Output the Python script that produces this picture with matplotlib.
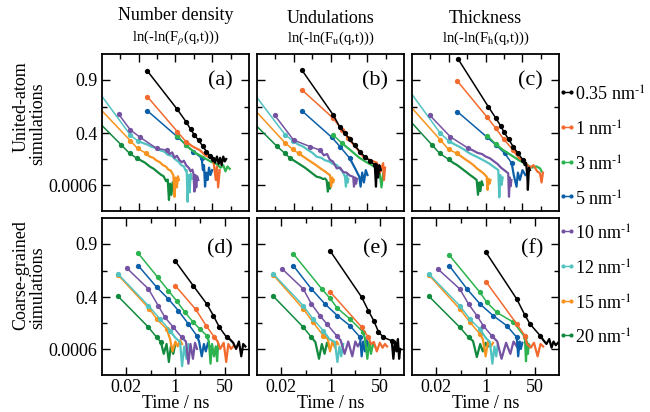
import numpy as np
import matplotlib.pyplot as plt
from matplotlib.lines import Line2D
from matplotlib.ticker import NullFormatter

plt.rcParams['font.family'] = 'Liberation Serif'
plt.rcParams['mathtext.fontset'] = 'stix'

q_labels = ['0.35', '1', '3', '5', '10', '12', '15', '20']
q_colors = ['#000000', '#f26a2e', '#2cb34f', '#0b5ea8',
            '#7553a3', '#52c3c1', '#f7931e', '#128a3e']

# y is ln(-ln F), ticks are labelled with the F value
f_ticks = [0.9, 0.4, 0.0006]
f_tick_labels = ['0.9', '0.4', '0.0006']

titles = ['Number density', 'Undulations', 'Thickness']
subtitles = ['ln(-ln(F$_{\\rho}$(q,t)))', 'ln(-ln(F$_{\\mathrm{u}}$(q,t)))',
             'ln(-ln(F$_{\\mathrm{h}}$(q,t)))']
panel_tags = ['(a)', '(b)', '(c)', '(d)', '(e)', '(f)']

# each entry: time (ns), ln(-ln F) with dots, then the noisy end (line only)
panel_a = {
    '0.35': ([0.175, 1.13, 1.95, 2.6, 3.3, 4.3, 5.5, 7.0, 8.8, 10.7],
             [-2.61, -1.06, -0.56, -0.25, -0.02, 0.2, 0.42, 0.65, 0.82, 0.95],
             [10.7, 12, 13.5, 15, 16.5, 18, 20, 22, 24],
             [0.95, 1.1, 0.85, 1.15, 0.9, 1.2, 0.85, 1.05, 0.95]),
    '1': ([0.175, 1.13, 1.95], [-1.57, -0.16, 0.25],
          [1.95, 3, 4.6, 6.5, 9.6, 11, 12.5, 13.5, 14.5, 16],
          [0.25, 0.45, 0.59, 0.8, 0.92, 1.1, 1.8, 1.26, 2.1, 1.4]),
    '3': ([1.13, 1.95], [0.0, 0.4],
          [1.95, 3.5, 6, 9, 13, 17, 20, 23, 26, 30],
          [0.4, 0.7, 0.9, 1.05, 1.15, 1.3, 1.2, 1.45, 1.25, 1.35]),
    '5': ([0.175, 1.13, 1.95, 3.06, 5.2], [-1.0, 0.05, 0.38, 0.65, 0.92],
          [5.2, 5.6, 6.0, 6.4, 6.9, 7.5, 8.2, 9, 10],
          [0.92, 1.4, 1.2, 2.07, 1.5, 1.8, 1.3, 1.6, 1.4]),
    '10': ([0.029, 0.06, 0.11, 0.31, 0.59], [-0.86, -0.23, 0.07, 0.52, 0.59],
           [0.59, 0.7, 0.82, 0.95, 1.1, 1.3, 1.5, 1.7, 2.0, 2.3, 2.6, 2.9, 3.1, 3.3, 3.5, 3.7, 3.9, 4.2],
           [0.59, 0.75, 0.68, 0.9, 0.82, 1.0, 1.08, 1.02, 1.22, 1.3, 1.45, 1.38, 1.55, 2.27, 1.6, 2.1, 1.65, 1.8]),
    '12': ([0.007, 0.06, 0.094], [-1.92, -0.02, 0.21],
           [0.094, 0.13, 0.17, 0.22, 0.29, 0.386, 0.5, 0.62, 0.8, 1.0, 1.2, 1.45, 1.7, 1.9, 2.03, 2.15, 2.3, 2.45, 2.6, 2.8],
           [0.21, 0.3, 0.36, 0.45, 0.5, 0.6, 0.65, 0.78, 0.82, 0.97, 1.05, 1.2, 1.25, 1.42, 1.4, 2.68, 1.6, 2.3, 1.55, 1.75]),
    '15': ([0.007, 0.06, 0.094, 0.16], [-1.26, 0.21, 0.52, 0.72],
           [0.16, 0.2, 0.25, 0.3, 0.38, 0.46, 0.55, 0.65, 0.75, 0.88, 0.95, 1.02, 1.1, 1.18, 1.25],
           [0.72, 0.85, 0.9, 1.0, 1.08, 1.2, 1.25, 1.38, 1.42, 1.6, 2.48, 1.7, 2.1, 1.65, 1.8]),
    '20': ([0.007, 0.034, 0.057, 0.09], [-0.65, 0.38, 0.72, 0.92],
           [0.09, 0.12, 0.15, 0.2, 0.26, 0.33, 0.4, 0.48, 0.56, 0.62, 0.67, 0.72, 0.78, 0.85],
           [0.92, 1.02, 1.1, 1.25, 1.35, 1.48, 1.58, 1.65, 1.85, 1.78, 2.61, 1.95, 2.4, 1.9]),
}

panel_b = {
    '0.35': ([0.166, 1.18, 1.8, 2.45, 3.3, 4.5, 6.2, 8.5, 11.5, 15.8],
             [-2.65, -0.83, -0.33, -0.09, 0.15, 0.4, 0.65, 0.86, 1.02, 1.19],
             [15.8, 17, 18, 19.5, 21, 23],
             [1.19, 2.07, 1.3, 1.7, 1.2, 1.4]),
    '1': ([0.166, 1.18, 1.99, 3.0], [-1.85, -0.7, -0.23, 0.11],
          [3.0, 5, 7.7, 12, 18, 22, 26.6, 28, 30],
          [0.11, 0.5, 0.86, 1.0, 1.1, 1.5, 1.12, 1.8, 1.3]),
    '3': ([1.18, 1.99], [-0.02, 0.3],
          [1.99, 3.5, 6, 10, 15, 21, 24, 27],
          [0.3, 0.6, 0.9, 1.1, 1.25, 1.39, 2.1, 1.5]),
    '5': ([0.166, 1.07, 1.8, 3.3], [-1.0, 0.07, 0.45, 0.92],
          [3.3, 4.5, 6.0, 6.5, 7.2, 8, 9, 10],
          [0.92, 1.3, 1.67, 2.07, 1.5, 1.9, 1.4, 1.6]),
    '10': ([0.03, 0.098, 0.28, 0.52], [-0.83, 0.18, 0.45, 0.59],
           [0.52, 0.65, 0.8, 0.95, 1.15, 1.46, 1.8, 2.2, 2.7, 3.3, 4.1, 4.3, 4.6, 4.9, 5.2],
           [0.59, 0.8, 0.75, 0.98, 1.05, 1.33, 1.3, 1.48, 1.5, 1.62, 1.67, 2.07, 1.7, 1.95, 1.75]),
    '12': ([0.007, 0.059, 0.094], [-1.84, -0.02, 0.21],
           [0.094, 0.13, 0.18, 0.24, 0.32, 0.42, 0.55, 0.7, 0.9, 1.15, 1.46, 1.8, 2.1, 2.45, 2.6, 2.75, 2.9, 3.0],
           [0.21, 0.36, 0.45, 0.58, 0.7, 0.86, 0.9, 1.0, 1.05, 1.15, 1.19, 1.35, 1.45, 1.67, 2.07, 1.6, 1.9, 1.75]),
    '15': ([0.007, 0.059, 0.094, 0.134], [-1.19, 0.31, 0.56, 0.72],
           [0.134, 0.18, 0.24, 0.32, 0.42, 0.55, 0.7, 0.85, 0.96, 1.03, 1.1, 1.17, 1.22],
           [0.72, 0.85, 0.98, 1.1, 1.22, 1.35, 1.45, 1.55, 1.6, 2.07, 1.7, 1.9, 1.8]),
    '20': ([0.007, 0.034, 0.057, 0.08], [-0.6, 0.42, 0.72, 0.92],
           [0.08, 0.11, 0.15, 0.2, 0.27, 0.35, 0.42, 0.52, 0.62, 0.7, 0.78, 0.84, 0.9, 0.96, 1.02],
           [0.92, 1.05, 1.18, 1.3, 1.45, 1.58, 1.67, 1.7, 1.76, 1.74, 1.82, 2.27, 1.9, 2.15, 1.95]),
}

panel_c = {
    '0.35': ([0.18, 1.18, 1.9, 2.56, 3.1, 4.2, 5.6, 7.5, 10.4],
             [-3.09, -1.17, -0.7, -0.39, -0.16, 0.15, 0.45, 0.72, 0.99],
             [10.4, 11.5, 12.5, 13.5, 14, 15, 16],
             [0.99, 1.2, 1.1, 1.6, 2.2, 1.3, 1.4]),
    '1': ([0.17, 1.1, 1.9, 3.1, 5.6], [-2.21, -0.74, -0.29, 0.15, 0.59],
          [5.6, 8, 12, 16, 20, 25, 30, 33, 36],
          [0.59, 0.9, 1.12, 1.3, 1.2, 1.45, 1.53, 1.9, 1.5]),
    '3': ([1.1, 1.9], [0.0, 0.35],
          [1.9, 3.0, 5, 8, 12, 18, 24, 30, 33],
          [0.35, 0.59, 0.8, 1.0, 1.15, 1.3, 1.25, 1.33, 1.45]),
    '5': ([0.17, 1.1, 1.9, 3.3, 5.1], [-0.97, 0.07, 0.38, 0.72, 1.12],
          [5.1, 5.8, 6.9, 7.5, 8.5, 10, 12],
          [1.12, 1.6, 2.07, 1.5, 1.8, 1.4, 1.6]),
    '10': ([0.03, 0.11, 0.34], [-0.83, 0.05, 0.52],
           [0.34, 0.45, 0.6, 0.8, 1.0, 1.3, 1.7, 2.1, 2.6, 3.2, 4.1, 4.3, 4.55, 4.8, 5.0],
           [0.52, 0.6, 0.7, 0.75, 0.85, 0.92, 1.05, 1.15, 1.3, 1.4, 1.53, 2.48, 1.7, 2.05, 1.8]),
    '12': ([0.007, 0.059, 0.098], [-1.98, -0.09, 0.21],
           [0.098, 0.14, 0.19, 0.25, 0.33, 0.44, 0.57, 0.75, 1.0, 1.3, 1.7, 2.0, 2.2, 2.35, 2.5, 2.7, 2.9],
           [0.21, 0.35, 0.45, 0.55, 0.68, 0.78, 0.86, 0.95, 1.05, 1.15, 1.28, 1.35, 1.4, 2.5, 1.6, 2.0, 1.7]),
    '15': ([0.007, 0.059, 0.098, 0.166], [-1.37, 0.18, 0.56, 0.72],
           [0.166, 0.22, 0.29, 0.37, 0.47, 0.6, 0.75, 0.9, 1.07, 1.13, 1.2, 1.27, 1.35],
           [0.72, 0.85, 0.98, 1.08, 1.2, 1.35, 1.45, 1.55, 1.67, 2.2, 1.75, 1.95, 1.8]),
    '20': ([0.007, 0.035, 0.056, 0.098], [-0.76, 0.38, 0.72, 0.96],
           [0.098, 0.13, 0.17, 0.23, 0.3, 0.38, 0.47, 0.57, 0.62, 0.67, 0.72, 0.78, 0.84],
           [0.96, 1.1, 1.2, 1.35, 1.48, 1.6, 1.7, 1.8, 2.4, 1.9, 2.25, 1.85, 2.0]),
}

panel_d = {
    '0.35': ([1.0, 4.1, 11.9, 20, 32, 57], [-1.55, -0.56, 0.18, 0.65, 1.12, 1.53],
             [57, 75, 95, 120, 150, 180, 210, 250],
             [1.53, 1.62, 1.75, 2.0, 1.7, 2.3, 1.8, 1.9]),
    '1': ([1.0, 5, 11.3, 21], [-0.56, 0.4, 1.06, 1.5],
          [21, 28, 34, 45, 55, 65, 80, 95],
          [1.5, 1.7, 2.0, 1.75, 2.53, 1.8, 2.0, 1.9]),
    '3': ([0.054, 0.25, 0.58, 1.1, 2.15, 4.1, 7, 11.9],
          [-1.87, -0.9, -0.36, 0.05, 0.52, 0.92, 1.2, 1.46],
          [11.9, 14, 16, 18, 21, 24, 27, 29],
          [1.46, 1.7, 2.6, 1.8, 2.3, 1.9, 2.5, 1.8]),
    '5': ([0.054, 0.23, 0.58, 1.27, 2.8, 5.4], [-1.37, -0.5, -0.02, 0.45, 0.99, 1.46],
          [5.4, 6.5, 8, 9.5, 11, 13, 15],
          [1.46, 1.7, 2.3, 1.8, 2.1, 1.75, 1.9]),
    '10': ([0.022, 0.12, 0.26, 0.44, 0.85, 1.65], [-1.27, -0.43, 0.25, 0.72, 1.12, 1.53],
           [1.65, 2.3, 2.8, 3.3, 4.0, 4.7, 5.5],
           [1.53, 1.7, 2.6, 1.8, 2.4, 1.75, 2.0]),
    '12': ([0.011, 0.12, 0.3, 0.66], [-1.03, 0.25, 0.79, 1.26],
           [0.66, 1.0, 1.45, 1.7, 2.0, 2.4, 2.8, 3.2],
           [1.26, 1.55, 1.72, 2.7, 1.9, 2.4, 1.8, 2.0]),
    '15': ([0.011, 0.13, 0.23, 0.51], [-0.99, 0.38, 0.79, 1.2],
           [0.51, 0.66, 0.8, 1.0, 1.2, 1.45, 1.7],
           [1.2, 1.6, 2.1, 1.7, 1.9, 1.65, 1.8]),
    '20': ([0.011, 0.12, 0.23, 0.32], [-0.13, 1.12, 1.53, 1.72],
           [0.32, 0.4, 0.5, 0.6, 0.7, 0.85, 1.0],
           [1.72, 2.2, 1.8, 2.53, 1.9, 2.2, 1.8]),
}

panel_e = {
    '0.35': ([0.95, 11.6, 19.5, 30, 43, 64, 123], [-1.98, -0.09, 0.45, 0.86, 1.3, 1.53, 1.67],
             [123, 140, 160, 180, 200, 220, 240],
             [1.67, 2.4, 1.7, 2.1, 1.6, 2.4, 2.0]),
    '1': ([0.95, 11.6, 19.5], [-0.32, 1.12, 1.53],
          [19.5, 24, 30, 38, 48, 60, 72, 85],
          [1.53, 1.8, 1.72, 2.1, 1.75, 1.95, 1.8, 1.9]),
    '3': ([0.053, 0.5, 0.95, 1.7, 4.6, 13.2], [-1.85, -0.43, -0.05, 0.35, 0.79, 1.33],
          [13.2, 15, 18, 21, 24, 28, 33],
          [1.33, 1.6, 2.4, 1.7, 2.2, 1.8, 1.9]),
    '5': ([0.053, 0.22, 0.64, 1.7, 4.6, 10.2], [-1.37, -0.43, 0.18, 0.65, 1.06, 1.53],
          [10.2, 11.5, 13, 15, 17, 19],
          [1.53, 2.3, 1.7, 2.1, 1.65, 1.9]),
    '10': ([0.022, 0.116, 0.22, 0.43, 0.74, 1.6], [-1.24, -0.43, 0.18, 0.65, 0.99, 1.46],
           [1.6, 2.2, 3, 4, 5.5, 7, 8.5, 10],
           [1.46, 1.65, 2.2, 1.7, 2.3, 1.7, 1.9, 1.75]),
    '12': ([0.011, 0.116, 0.25, 0.56], [-1.03, 0.25, 0.79, 1.26],
           [0.56, 0.9, 1.4, 1.7, 2.0, 2.3, 2.7],
           [1.26, 1.6, 1.72, 2.53, 1.9, 2.3, 1.8]),
    '15': ([0.011, 0.116, 0.25, 0.56], [-0.99, 0.38, 0.92, 1.46],
           [0.56, 0.8, 0.95, 1.15, 1.4, 1.6, 1.8],
           [1.46, 1.6, 2.1, 1.7, 1.95, 1.7, 1.8]),
    '20': ([0.011, 0.116, 0.22], [-0.13, 1.12, 1.53],
           [0.22, 0.3, 0.4, 0.5, 0.62, 0.75, 0.95],
           [1.53, 1.72, 2.4, 1.8, 2.2, 1.75, 2.0]),
}

panel_f = {
    '0.35': ([1.03, 11.6, 22, 33, 73], [-1.91, -0.02, 0.63, 0.99, 1.46],
             [73, 95, 120, 150, 180, 210, 250, 300],
             [1.46, 1.65, 1.8, 1.6, 1.95, 1.7, 1.85, 1.75]),
    '1': ([1.03, 11.6, 22], [-0.72, 0.99, 1.46],
          [22, 26, 35, 45, 60, 75, 93],
          [1.46, 1.8, 1.95, 1.75, 2.3, 1.8, 1.9]),
    '3': ([0.057, 0.64, 1.1, 2.4, 8.9, 22], [-1.8, -0.29, 0.11, 0.52, 0.92, 1.53],
          [22, 24, 26, 28, 30, 33],
          [1.53, 2.5, 1.7, 2.2, 1.8, 1.9]),
    '5': ([0.057, 0.23, 0.64, 1.8, 5.3, 11.6], [-1.37, -0.43, 0.18, 0.65, 1.06, 1.53],
          [11.6, 13, 14.5, 16, 18],
          [1.53, 2.3, 1.7, 2.0, 1.75]),
    '10': ([0.023, 0.13, 0.26, 0.5, 0.83, 1.6], [-1.24, -0.43, 0.18, 0.65, 1.06, 1.46],
           [1.6, 2.5, 3.5, 5, 7, 9, 11.6],
           [1.46, 1.7, 2.4, 1.75, 2.2, 1.7, 1.9]),
    '12': ([0.0115, 0.13, 0.29, 0.64], [-1.03, 0.25, 0.79, 1.2],
           [0.64, 1.0, 1.4, 1.7, 2.0, 2.3, 2.6],
           [1.2, 1.55, 1.72, 2.6, 1.9, 2.3, 1.8]),
    '15': ([0.0115, 0.13, 0.29, 0.64], [-0.99, 0.38, 0.92, 1.4],
           [0.64, 0.8, 1.0, 1.2, 1.5, 1.8],
           [1.4, 1.6, 2.3, 1.7, 1.9, 1.75]),
    '20': ([0.0115, 0.13, 0.26], [-0.13, 1.12, 1.53],
           [0.26, 0.37, 0.5, 0.65, 0.8, 1.0, 1.2],
           [1.53, 1.68, 2.33, 1.8, 2.1, 1.75, 1.9]),
}

panels = [panel_a, panel_b, panel_c, panel_d, panel_e, panel_f]

W, H = 650, 412
fig = plt.figure(figsize=(W / 100, H / 100), dpi=100)

lefts = [101.7, 257, 412]
tops = [54, 218]
aw, ah = 147.3, 157

yt = np.log(-np.log(f_ticks))
y_minor = [(yt[0] + yt[1]) / 2, (yt[1] + yt[2]) / 2]

for k, data in enumerate(panels):
    row, col = divmod(k, 3)
    ax = fig.add_axes([lefts[col] / W, 1 - (tops[row] + ah) / H, aw / W, ah / H])
    for q, c in reversed(list(zip(q_labels, q_colors))):
        t, v, nt, nv = data[q]
        ax.plot(nt, nv, color=c, lw=1.6)
        ax.plot(t, v, color=c, lw=1.1, marker='o', ms=3.8, mew=0)

    ax.set_xscale('log')
    if row == 0:
        ax.set_xlim(0.01, 100)
        ax.set_xticks([0.1, 1, 10])
        ax.set_xticklabels([])
        ax.set_xticks([10 ** -1.5, 10 ** -0.5, 10 ** 0.5, 10 ** 1.5], minor=True)
    else:
        ax.set_xlim(10 ** -2.52, 10 ** 2.52)
        ax.set_xticks([0.02, 1, 50])
        ax.set_xticklabels(['0.02', '1', '50'])
        ax.set_xticks([0.02 ** 0.5, 50 ** 0.5], minor=True)
        ax.set_xlabel('Time / ns', fontsize=13, labelpad=-1)
    ax.xaxis.set_minor_formatter(NullFormatter())

    ax.set_ylim(3.056, -3.303)
    ax.set_yticks(yt)
    ax.set_yticklabels(f_tick_labels if col == 0 else [])
    ax.set_yticks(y_minor, minor=True)

    ax.tick_params(which='both', direction='in', top=True, right=True,
                   labelsize=13, width=1, pad=3)
    ax.tick_params(which='major', length=6)
    ax.tick_params(which='minor', length=3.5)
    for s in ax.spines.values():
        s.set_linewidth(1.3)

    ax.text(0.889, 0.828 if row == 0 else 0.805, panel_tags[k], transform=ax.transAxes,
            ha='right', va='center', fontsize=16)

# column titles
for col in range(3):
    cx = (lefts[col] + aw / 2) / W
    fig.text(cx, 1 - (20 if col == 0 else 23) / H, titles[col],
             ha='center', va='baseline', fontsize=13)
    fig.text(cx, 1 - 42 / H, subtitles[col], ha='center', va='baseline', fontsize=10.5)

# row labels
fig.text(21 / W, 1 - 107 / H, 'United-atom', rotation=90, ha='center', va='center', fontsize=13)
fig.text(38 / W, 1 - 124 / H, 'simulations', rotation=90, ha='center', va='center', fontsize=13)
fig.text(21 / W, 1 - 275 / H, 'Coarse-grained', rotation=90, ha='center', va='center', fontsize=13)
fig.text(38 / W, 1 - 288 / H, 'simulations', rotation=90, ha='center', va='center', fontsize=13)

# legend on the right
for i, (q, c) in enumerate(zip(q_labels, q_colors)):
    yp = 92.3 + i * 34.7
    fig.add_artist(Line2D([563 / W, 571 / W], [1 - yp / H, 1 - yp / H], color=c, lw=1,
                          marker='o', ms=3, mew=0, transform=fig.transFigure))
    fig.text(575 / W, 1 - (yp + 9) / H, q + ' nm$^{\\text{-}1}$', ha='left', va='baseline',
             fontsize=13)

fig.savefig('out.png', dpi=100)
